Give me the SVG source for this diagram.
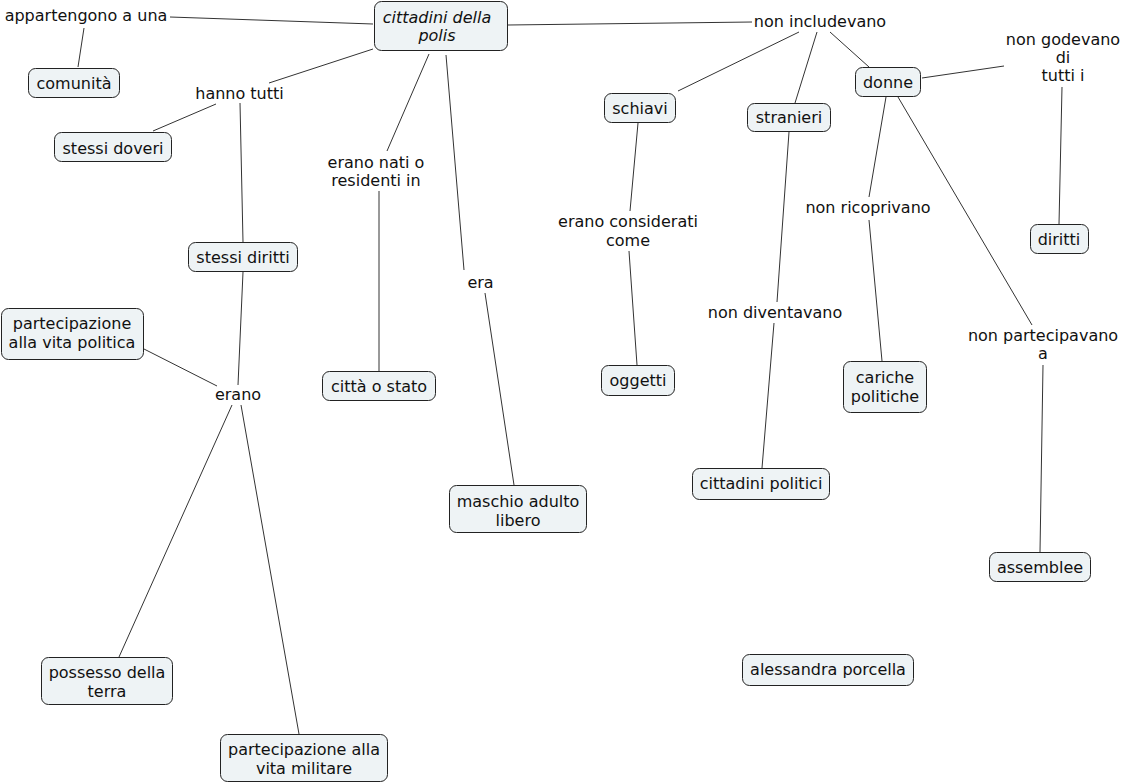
<svg xmlns="http://www.w3.org/2000/svg" width="1123" height="784" viewBox="0 0 1123 784">
<style>
.bg{fill:#ffffff}
.box{fill:#eef3f5;stroke:#222;stroke-width:1}
.t{font-family:"DejaVu Sans",Verdana,sans-serif;font-size:16px;fill:#111;text-anchor:middle}
.it{font-style:italic}
#connectors line{stroke:#333;stroke-width:1;fill:none}
</style>
<rect class="bg" x="0" y="0" width="1123" height="784"/>
<g id="connectors">
<line x1="373" y1="24" x2="170" y2="17"/>
<line x1="84" y1="28" x2="78" y2="67"/>
<line x1="373" y1="49" x2="269" y2="83"/>
<line x1="216" y1="104" x2="153" y2="131"/>
<line x1="240" y1="103" x2="243" y2="242"/>
<line x1="429" y1="54" x2="387" y2="151"/>
<line x1="379" y1="191" x2="379" y2="371"/>
<line x1="446" y1="55" x2="464" y2="270"/>
<line x1="485" y1="293" x2="514" y2="485"/>
<line x1="243" y1="272" x2="238" y2="385"/>
<line x1="144" y1="349" x2="217" y2="386"/>
<line x1="232" y1="405" x2="119" y2="657"/>
<line x1="241" y1="405" x2="299" y2="734"/>
<line x1="508" y1="25" x2="752" y2="22"/>
<line x1="799" y1="32" x2="678" y2="91"/>
<line x1="817" y1="32" x2="795" y2="103"/>
<line x1="830" y1="32" x2="869" y2="67"/>
<line x1="922" y1="78" x2="1004" y2="66"/>
<line x1="1062" y1="87" x2="1059" y2="224"/>
<line x1="638" y1="123" x2="630" y2="211"/>
<line x1="629" y1="251" x2="637" y2="365"/>
<line x1="789" y1="132" x2="777" y2="302"/>
<line x1="774" y1="323" x2="762" y2="468"/>
<line x1="886" y1="97" x2="869" y2="197"/>
<line x1="869" y1="220" x2="882" y2="361"/>
<line x1="898" y1="97" x2="1032" y2="325"/>
<line x1="1043" y1="365" x2="1040" y2="552"/>
</g>
<g id="n-cittadini"><rect class="box" x="374.5" y="1.5" width="133" height="49" rx="7"/><text class="t it" x="437" y="22.5">cittadini della</text><text class="t it" x="437" y="40.5">polis</text></g>
<g id="n-comunita"><rect class="box" x="28.5" y="68.5" width="91" height="29" rx="7"/><text class="t" x="74" y="89">comunità</text></g>
<g id="n-doveri"><rect class="box" x="54.5" y="132.5" width="117" height="29" rx="7"/><text class="t" x="113" y="154">stessi doveri</text></g>
<g id="n-diritti-stessi"><rect class="box" x="188.5" y="242.5" width="109" height="29" rx="7"/><text class="t" x="243" y="263">stessi diritti</text></g>
<g id="n-part-politica"><rect class="box" x="1.5" y="308.5" width="142" height="51" rx="7"/><text class="t" x="72" y="329">partecipazione</text><text class="t" x="72" y="348">alla vita politica</text></g>
<g id="n-citta"><rect class="box" x="322.5" y="371.5" width="113" height="29" rx="7"/><text class="t" x="379" y="392">città o stato</text></g>
<g id="n-possesso"><rect class="box" x="41.5" y="657.5" width="131" height="47" rx="7"/><text class="t" x="107" y="678">possesso della</text><text class="t" x="107" y="697">terra</text></g>
<g id="n-part-militare"><rect class="box" x="220.5" y="734.5" width="167" height="47" rx="7"/><text class="t" x="304" y="755">partecipazione alla</text><text class="t" x="304" y="774">vita militare</text></g>
<g id="n-maschio"><rect class="box" x="449.5" y="485.5" width="137" height="47" rx="7"/><text class="t" x="518" y="507">maschio adulto</text><text class="t" x="518" y="526">libero</text></g>
<g id="n-oggetti"><rect class="box" x="601.5" y="365.5" width="73" height="30" rx="7"/><text class="t" x="638" y="386">oggetti</text></g>
<g id="n-cittadini-politici"><rect class="box" x="692.5" y="468.5" width="137" height="31" rx="7"/><text class="t" x="761" y="489">cittadini politici</text></g>
<g id="n-cariche"><rect class="box" x="843.5" y="361.5" width="83" height="51" rx="7"/><text class="t" x="885" y="383">cariche</text><text class="t" x="885" y="402">politiche</text></g>
<g id="n-assemblee"><rect class="box" x="989.5" y="552.5" width="101" height="29" rx="7"/><text class="t" x="1040" y="573">assemblee</text></g>
<g id="n-schiavi"><rect class="box" x="604.5" y="93.5" width="71" height="29" rx="7"/><text class="t" x="640" y="114">schiavi</text></g>
<g id="n-stranieri"><rect class="box" x="747.5" y="103.5" width="83" height="28" rx="7"/><text class="t" x="789" y="123">stranieri</text></g>
<g id="n-donne"><rect class="box" x="855.5" y="67.5" width="65" height="29" rx="7"/><text class="t" x="888" y="88">donne</text></g>
<g id="n-diritti"><rect class="box" x="1030.5" y="224.5" width="58" height="29" rx="7"/><text class="t" x="1059" y="245">diritti</text></g>
<g id="n-alessandra"><rect class="box" x="742.5" y="654.5" width="171" height="31" rx="7"/><text class="t" x="828" y="675">alessandra porcella</text></g>
<g id="l-appartengono"><text class="t" x="86" y="21">appartengono a una</text></g>
<g id="l-hanno"><text class="t" x="239.5" y="99">hanno tutti</text></g>
<g id="l-nati"><text class="t" x="376" y="168">erano nati o</text><text class="t" x="376" y="186">residenti in</text></g>
<g id="l-era"><text class="t" x="480.5" y="288">era</text></g>
<g id="l-erano"><text class="t" x="238" y="400">erano</text></g>
<g id="l-includevano"><text class="t" x="820" y="27">non includevano</text></g>
<g id="l-godevano"><text class="t" x="1063" y="44.5">non godevano</text><text class="t" x="1063" y="62.5">di</text><text class="t" x="1063" y="80.5">tutti i</text></g>
<g id="l-considerati"><text class="t" x="628" y="227">erano considerati</text><text class="t" x="628" y="246">come</text></g>
<g id="l-diventavano"><text class="t" x="775" y="318">non diventavano</text></g>
<g id="l-ricoprivano"><text class="t" x="868" y="213">non ricoprivano</text></g>
<g id="l-partecipavano"><text class="t" x="1043" y="341">non partecipavano</text><text class="t" x="1043" y="359">a</text></g>
</svg>
